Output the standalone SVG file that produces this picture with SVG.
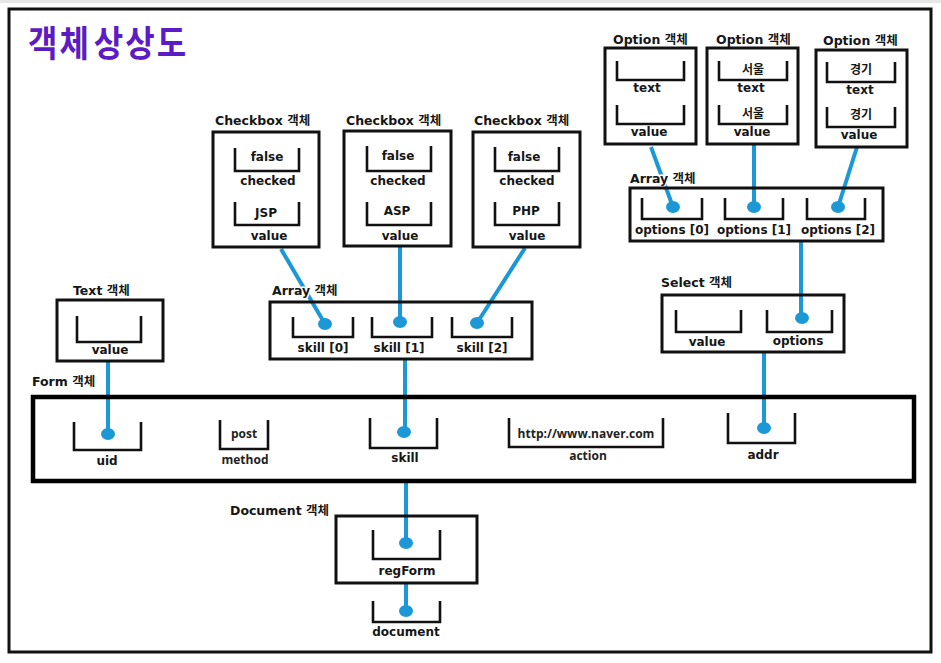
<svg xmlns="http://www.w3.org/2000/svg" width="941" height="663" viewBox="0 0 941 663">
  <style>
    .box{fill:none;stroke:#111;stroke-width:3}
    .form{fill:none;stroke:#000;stroke-width:4.5}
    .bk{fill:none;stroke:#111;stroke-width:2.6}
    .t{font-family:"DejaVu Sans","Noto Sans CJK KR",sans-serif;font-weight:bold;font-size:12px;fill:#161616;text-anchor:middle}
    .h{font-family:"DejaVu Sans","Noto Sans CJK KR",sans-serif;font-weight:bold;font-size:12.5px;fill:#161616;stroke:#fff;stroke-width:3;paint-order:stroke;stroke-linejoin:round}
    .m{font-family:"Open Sans","Noto Sans CJK KR",sans-serif;font-weight:bold;font-size:12px;fill:#222;text-anchor:middle}
    .link{stroke:#1c98d6;stroke-width:4;fill:none;stroke-linecap:butt}
    .dot{fill:#1c98d6}
    .title{font-family:"Noto Sans CJK KR",sans-serif;font-weight:700;font-size:32px;fill:#5b1cc6;letter-spacing:2px}
  </style>

  <rect x="0" y="0" width="941" height="663" fill="#fff"/>
  <rect x="0" y="0" width="941" height="3" fill="#e6e6e6"/>
  <rect x="9" y="9" width="922" height="643" fill="#fff" stroke="#111" stroke-width="3"/>

  <text class="title" transform="translate(28,57) scale(1,1.15)">객체<tspan dx="3">상상도</tspan></text>

  <!-- References (drawn first so the labels sit above them) -->
  <g id="connectors">
    <path class="link" d="M108 361V434"/>
    <path class="link" d="M281 249L325 324"/>
    <path class="link" d="M400 247V322"/>
    <path class="link" d="M525 248L477 323"/>
    <path class="link" d="M405 359V432"/>
    <path class="link" d="M651 147L673 207"/>
    <path class="link" d="M754 144V207"/>
    <path class="link" d="M857 147L838 207"/>
    <path class="link" d="M801 241V318"/>
    <path class="link" d="M764 352V428"/>
    <path class="link" d="M406 481V543"/>
    <path class="link" d="M406 583V611"/>
    <ellipse class="dot" cx="108" cy="434" rx="7" ry="6"/>
    <ellipse class="dot" cx="325" cy="324" rx="7" ry="6"/>
    <ellipse class="dot" cx="400" cy="322" rx="7" ry="6"/>
    <ellipse class="dot" cx="477" cy="323" rx="7" ry="6"/>
    <ellipse class="dot" cx="404" cy="432" rx="7" ry="6"/>
    <ellipse class="dot" cx="673" cy="207" rx="7" ry="6"/>
    <ellipse class="dot" cx="754" cy="207" rx="7" ry="6"/>
    <ellipse class="dot" cx="838" cy="207" rx="7" ry="6"/>
    <ellipse class="dot" cx="802" cy="318" rx="7" ry="6"/>
    <ellipse class="dot" cx="764" cy="428" rx="7" ry="6"/>
    <ellipse class="dot" cx="406" cy="543" rx="7" ry="6"/>
    <ellipse class="dot" cx="406" cy="611" rx="7" ry="6"/>
  </g>

  <!-- Checkbox objects -->
  <g id="checkbox1">
    <text class="h" x="215" y="125">Checkbox 객체</text>
    <rect class="box" x="213" y="132" width="106" height="115"/>
    <path class="bk" d="M235 148V171H299V148"/>
    <text class="t" x="267" y="161">false</text>
    <text class="t" x="268" y="185">checked</text>
    <path class="bk" d="M235 202V225H299V202"/>
    <text class="t" x="266" y="217">JSP</text>
    <text class="t" x="269" y="240">value</text>
  </g>
  <g id="checkbox2">
    <text class="h" x="346" y="125">Checkbox 객체</text>
    <rect class="box" x="344" y="131" width="107" height="115"/>
    <path class="bk" d="M367 146V171H431V146"/>
    <text class="t" x="398" y="160">false</text>
    <text class="t" x="398" y="185">checked</text>
    <path class="bk" d="M367 202V225H431V202"/>
    <text class="t" x="397" y="215">ASP</text>
    <text class="t" x="400" y="240">value</text>
  </g>
  <g id="checkbox3">
    <text class="h" x="474" y="125">Checkbox 객체</text>
    <rect class="box" x="473" y="132" width="107" height="115"/>
    <path class="bk" d="M495 147V171H559V147"/>
    <text class="t" x="524" y="161">false</text>
    <text class="t" x="527" y="185">checked</text>
    <path class="bk" d="M495 202V225H559V202"/>
    <text class="t" x="526" y="215">PHP</text>
    <text class="t" x="527" y="240">value</text>
  </g>

  <!-- Option objects -->
  <g id="option1">
    <text class="h" x="613" y="44">Option 객체</text>
    <rect class="box" x="605" y="48" width="91" height="96"/>
    <path class="bk" d="M617 61V80H684V61"/>
    <text class="t" x="647" y="92">text</text>
    <path class="bk" d="M617 105V124H684V105"/>
    <text class="t" x="649" y="136">value</text>
  </g>
  <g id="option2">
    <text class="h" x="716" y="44">Option 객체</text>
    <rect class="box" x="707" y="48" width="91" height="96"/>
    <path class="bk" d="M719 61V80H787V61"/>
    <text class="t" x="753" y="74">서울</text>
    <text class="t" x="751" y="92">text</text>
    <path class="bk" d="M719 105V124H787V105"/>
    <text class="t" x="753" y="118">서울</text>
    <text class="t" x="752" y="136">value</text>
  </g>
  <g id="option3">
    <text class="h" x="823" y="45">Option 객체</text>
    <rect class="box" x="816" y="50" width="91" height="97"/>
    <path class="bk" d="M827 62V82H895V62"/>
    <text class="t" x="861" y="74">경기</text>
    <text class="t" x="860" y="94">text</text>
    <path class="bk" d="M827 107V127H895V107"/>
    <text class="t" x="861" y="119">경기</text>
    <text class="t" x="859" y="139">value</text>
  </g>

  <!-- Array of options -->
  <g id="optionsArray">
    <text class="h" x="630" y="183">Array 객체</text>
    <rect class="box" x="630" y="188" width="253" height="53"/>
    <path class="bk" d="M642 198V219H702V198"/>
    <path class="bk" d="M725 198V219H783V198"/>
    <path class="bk" d="M807 198V219H865V198"/>
    <text class="t" x="672" y="234">options [0]</text>
    <text class="t" x="754" y="234">options [1]</text>
    <text class="t" x="838" y="234">options [2]</text>
  </g>

  <!-- Select -->
  <g id="select">
    <text class="h" x="661" y="287">Select 객체</text>
    <rect class="box" x="662" y="295" width="182" height="57"/>
    <path class="bk" d="M676 310V332H741V310"/>
    <path class="bk" d="M767 310V332H832V310"/>
    <text class="t" x="707" y="346">value</text>
    <text class="t" x="798" y="345">options</text>
  </g>

  <!-- Text -->
  <g id="textObj">
    <text class="h" x="73" y="295">Text 객체</text>
    <rect class="box" x="57" y="300" width="106" height="61"/>
    <path class="bk" d="M77 316V342H141V316"/>
    <text class="t" x="110" y="354">value</text>
  </g>

  <!-- Array of skills -->
  <g id="skillArray">
    <text class="h" x="272" y="295">Array 객체</text>
    <rect class="box" x="270" y="302" width="262" height="57"/>
    <path class="bk" d="M293 317V337H353V317"/>
    <path class="bk" d="M372 317V337H432V317"/>
    <path class="bk" d="M452 317V337H512V317"/>
    <text class="t" x="323" y="352">skill [0]</text>
    <text class="t" x="399" y="352">skill [1]</text>
    <text class="t" x="482" y="352">skill [2]</text>
  </g>

  <!-- Form -->
  <g id="form">
    <text class="h" x="32" y="386">Form 객체</text>
    <rect class="form" x="33" y="397" width="881" height="84"/>
    <path class="bk" d="M74 422V450H141V422"/>
    <text class="t" x="107" y="465">uid</text>
    <path class="bk" d="M220 420V449H268V420"/>
    <text class="m" x="244" y="438">post</text>
    <text class="m" x="245" y="464">method</text>
    <path class="bk" d="M370 418V448H437V418"/>
    <text class="t" x="405" y="462">skill</text>
    <path class="bk" d="M509 418V447H663V418"/>
    <text class="m" x="586" y="438">http://www.naver.com</text>
    <text class="m" x="588" y="460">action</text>
    <path class="bk" d="M728 413V443H795V413"/>
    <text class="t" x="763" y="459">addr</text>
  </g>

  <!-- Document -->
  <g id="document">
    <text class="h" x="230" y="515">Document 객체</text>
    <rect class="box" x="336" y="516" width="141" height="67"/>
    <path class="bk" d="M373 530V559H440V530"/>
    <text class="t" x="407" y="575">regForm</text>
    <path class="bk" d="M373 601V622H440V601"/>
    <text class="t" x="406" y="636">document</text>
  </g>
</svg>
